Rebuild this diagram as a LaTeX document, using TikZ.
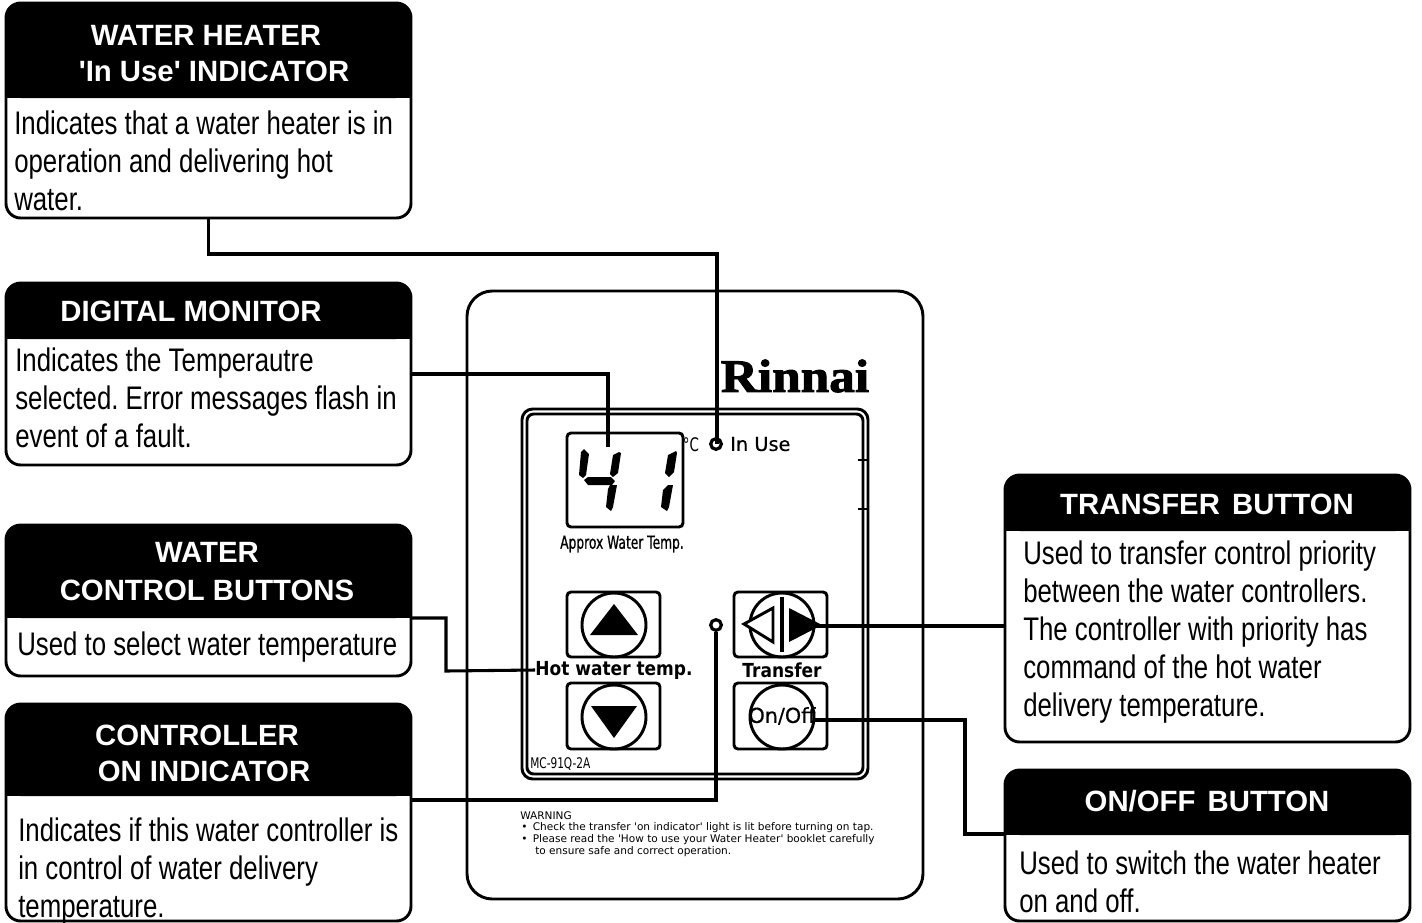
\documentclass[tikz,border=0pt]{standalone}
\usepackage{fontspec}
\usepackage{xcolor}
\setmainfont{Liberation Sans}
\newfontfamily\bodyfont[FakeStretch=0.79]{Liberation Sans}
\newfontfamily\panelfont[FakeStretch=0.88]{DejaVu Sans}
\newfontfamily\lampfont[FakeBold=0.5]{DejaVu Sans}
\newfontfamily\warnfont{DejaVu Sans}
\newfontfamily\narrowfont[FakeStretch=0.72]{DejaVu Sans}
\newfontfamily\approxfont[FakeStretch=0.68,FakeBold=0.8]{DejaVu Sans}
\newfontfamily\logofont[FakeStretch=1.1,FakeBold=2]{Liberation Serif}
\usetikzlibrary{fit,positioning}
\frenchspacing
\newcommand{\headbar}[4]{%
  \fill[black, rounded corners=11pt] (#1,#3) rectangle (#2,#4);
  \fill[black] (#1,#3+20) rectangle (#2,#4);
}

\begin{document}
\begin{tikzpicture}[x=0.75pt, y=-0.75pt,
                    callout/.style={draw, black, line width=2.2pt, rounded corners=11pt, inner sep=0pt, fill=white},
                    headtext/.style={text=white, font=\fontsize{22}{27}\selectfont\bfseries, align=center, inner sep=0pt},
                    bodytext/.style={font=\bodyfont\fontsize{24.5}{28.6}\selectfont, align=left, anchor=west, inner sep=0pt},
                    wire/.style={line width=2.3pt, black},
                    frame/.style={draw, black, line width=2.2pt, rounded corners=3pt, inner sep=0pt},
                    knob/.style={draw, black, line width=2.2pt, circle, minimum size=48pt, inner sep=0pt},
                    lamp/.style={draw, black, line width=2.4pt, circle, minimum size=8pt, inner sep=0pt},
                    paneltext/.style={font=\panelfont\bfseries\fontsize{14.5}{17}\selectfont, inner sep=0pt},
                    warntext/.style={font=\warnfont\fontsize{7.9}{9}\selectfont, inner sep=0pt, anchor=west},
                   ]

\useasboundingbox (0,0) rectangle (1422,922);

% the controller
\node[fit={(467,291) (923,899)}, draw, line width=2.2pt, rounded corners=19pt, inner sep=0pt] (panel) {};
\node[fit={(522,409) (868,779)}, draw, line width=2.2pt, rounded corners=8pt, inner sep=0pt] (frameout) {};
\node[fit={(527,414) (863,774)}, draw, line width=2.2pt, rounded corners=5pt, inner sep=0pt] (framein) {};
\draw[line width=2pt] (858,460) -- (868,460);
\draw[line width=2pt] (858,509) -- (868,509);

\node[font=\logofont\fontsize{35}{35}\selectfont\bfseries, inner sep=0pt] (logo) at (795,376) {Rinnai};

% display
\node[fit={(567,433) (683,527)}, frame] (display) {};
\fill (584,449) -- (589,454) -- (586,475) -- (583,478) -- (579,475) -- (581,452) -- cycle;
\fill (584,480) -- (588,477) -- (611,477) -- (615,481) -- (612,485) -- (588,485) -- cycle;
\fill (619,452) -- (621,453) -- (618,473) -- (613,477) -- (610,474) -- (613,455) -- cycle;
\fill (610,485) -- (617,485) -- (613,507) -- (611,511) -- (606,507) -- (608,489) -- cycle;
\fill (676,451) -- (677,453) -- (674,472) -- (669,477) -- (665,473) -- (668,455) -- cycle;
\fill (668,485) -- (673,485) -- (669,507) -- (667,511) -- (661,507) -- (663,490) -- cycle;
\node[font=\approxfont\fontsize{13.5}{16}\selectfont, inner sep=0pt] (approx) at (622,544) {Approx Water Temp.};
\node[font=\narrowfont\fontsize{14}{16}\selectfont, inner sep=0pt] (degree) at (691,445) {\textdegree C};
\node[lamp] (usedot) at (716,444) {};
\node[font=\lampfont\fontsize{14.5}{17}\selectfont, inner sep=0pt, anchor=west] (usetext) at (730,444) {In Use};

% buttons
\node[fit={(567,592) (660,657)}, frame] (upbox) {};
\node[knob] (upknob) at (614,625) {};
\fill (614,604) -- (638,635) -- (590,635) -- cycle;
\node[fit={(567,683) (660,749)}, frame] (downbox) {};
\node[knob] (downknob) at (614,717) {};
\fill (591,706) -- (637,706) -- (614,738) -- cycle;
\node[fit={(734,592) (827,657)}, frame] (transferbox) {};
\node[knob] (transferknob) at (782,625) {};
\draw[line width=3pt] (782,597) -- (782,652);
\draw[line width=2.2pt, fill=white] (744,624) -- (773,608) -- (773,642) -- cycle;
\fill (789,608) -- (822,625) -- (789,642) -- cycle;
\node[fit={(734,683) (827,749)}, frame] (onoffbox) {};
\node[knob] (onoffknob) at (782,717) {};
\node[font=\lampfont\fontsize{15.5}{17}\selectfont, inner sep=0pt] (onofftext) at (782,716) {On/Off};
\node[paneltext] (hottext) at (614,670) {Hot water temp.};
\node[paneltext] (transfertext) at (782,670) {Transfer};
\node[lamp] (ondot) at (716,625) {};
\node[font=\narrowfont\fontsize{11}{13}\selectfont, inner sep=0pt, anchor=west] (model) at (530,764) {MC-91Q-2A};

% warning
\node[warntext] (warnhead) at (520,816) {WARNING};
\node[warntext] (warnone) at (521,828) {•\hspace{4pt}Check the transfer 'on indicator' light is lit before turning on tap.};
\node[warntext] (warntwo) at (521,840) {•\hspace{4pt}Please read the 'How to use your Water Heater' booklet carefully};
\node[warntext] (warnthree) at (535,852) {to ensure safe and correct operation.};

% callouts on the left
\node[fit={(6,3) (411,218)}, callout] (inuse) {};
\headbar{6}{411}{3}{98}
\node[headtext] (inusehead) at (214,54) {WATER HEATER\hspace*{12pt}\\ \textquotesingle In Use\textquotesingle{} INDICATOR};
\node[bodytext] (inusebody) at (14,161) {Indicates that a water heater is in\\operation and delivering hot\\water.};

\node[fit={(6,283) (411,465)}, callout] (monitor) {};
\headbar{6}{411}{283}{339}
\node[headtext] (monitorhead) at (191,311) {DIGITAL MONITOR};
\node[bodytext] (monitorbody) at (15,398) {Indicates the Temperautre\\selected. Error messages flash in\\event of a fault.};

\node[fit={(6,525) (411,676)}, callout] (water) {};
\headbar{6}{411}{525}{618}
\node[headtext, font=\fontsize{22}{28.5}\selectfont\bfseries] (waterhead) at (207,572) {WATER\\CONTROL BUTTONS};
\node[bodytext] (waterbody) at (17,647) {Used to select water temperature};

\node[fit={(6,704) (411,921)}, callout] (controller) {};
\headbar{6}{411}{704}{796}
\node[headtext] (controllerhead) at (204,753) {CONTROLLER\hspace*{10.5pt}\\ON INDICATOR};
\node[bodytext] (controllerbody) at (18,871) {Indicates if this water controller is\\in control of water delivery\\temperature.};

% callouts on the right
\node[fit={(1005,475) (1410,742)}, callout] (transfer) {};
\headbar{1005}{1410}{475}{531}
\node[headtext] (transferhead) at (1207,504) {TRANSFER\hspace{3pt} BUTTON};
\node[bodytext] (transferbody) at (1023,632) {Used to transfer control priority\\between the water controllers.\\The controller with priority has\\command of the hot water\\delivery temperature.};

\node[fit={(1005,770) (1410,921)}, callout] (onoff) {};
\headbar{1005}{1410}{770}{835}
\node[headtext] (onoffhead) at (1207,801) {ON/OFF\hspace{3pt} BUTTON};
\node[bodytext] (onoffbody) at (1019,882) {Used to switch the water heater\\on and off.};

% wires
\coordinate (usebend) at (717,254);
\coordinate (displaytap) at (608,447);
\coordinate (waterport) at (411,618);
\coordinate (waterbend) at (446,671);
\coordinate (controllerport) at (411,800);
\coordinate (transferport) at (1005,626);
\coordinate (transfertip) at (815,626);
\coordinate (onoffport) at (1005,834);
\coordinate (onoffbend) at (965,720);
\coordinate (onofftap) at (815,720);

\draw[wire] (inuse.south) |- (usebend) -- (usebend |- usedot);
\draw[wire] (monitor.east) -| (displaytap);
\draw[wire] (waterport) -| (waterbend) -- (hottext.west);
\draw[wire] (controllerport) -| (ondot);
\draw[wire] (transferport) -- (transfertip);
\draw[wire] (onoffport) -| (onoffbend) -- (onofftap);

\end{tikzpicture}
\end{document}
